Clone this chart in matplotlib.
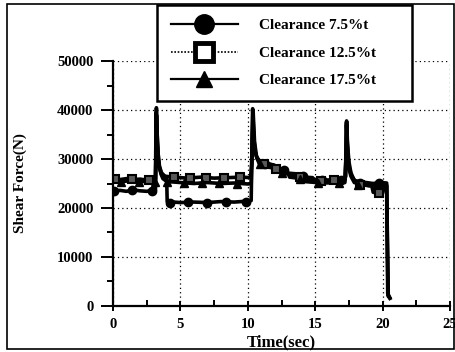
import matplotlib.pyplot as plt
from matplotlib.lines import Line2D
from matplotlib.patches import Rectangle

# Clearance 7.5%t (circles)
t75 = [0.0, 0.5, 1.0, 1.5, 2.0, 2.5, 3.0, 3.15, 3.22, 3.28, 3.35, 3.45, 3.6, 3.8, 3.98,
       4.02, 5.0, 6.0, 7.0, 8.0, 9.0, 10.0, 10.25, 10.3, 10.36, 10.42, 10.5, 10.65, 10.85,
       11.2, 11.9, 12.0, 12.8, 12.9, 14.2, 14.4, 16.0, 17.2, 17.27, 17.33, 17.4, 17.5,
       17.65, 17.9, 18.5, 19.3, 19.8, 20.3, 20.38, 20.5]
f75 = [23300, 23600, 23400, 23700, 23500, 23400, 23600, 23600, 40500, 35000, 31000, 28500, 27200, 26600, 26200,
       21300, 21100, 21200, 21100, 21300, 21200, 21400, 21500, 30000, 40300, 35000, 32000, 30500, 29700,
       29200, 28800, 28200, 27900, 27000, 26600, 25900, 25700, 25900, 26500, 37800, 33000, 29500,
       27200, 25600, 25300, 25000, 25200, 25100, 2500, 1800]

# Clearance 12.5%t (squares)
t125 = [0.0, 0.5, 1.0, 1.5, 2.0, 2.5, 3.0, 3.15, 3.2, 3.27, 3.35, 3.45, 3.6, 3.8,
        4.5, 5.5, 6.5, 7.5, 8.5, 9.5, 10.2, 10.3, 10.37, 10.45, 10.55, 10.7, 10.9,
        11.5, 12.0, 12.1, 12.6, 12.7, 13.5, 13.6, 14.8, 15.0, 16.5, 17.2, 17.28, 17.32,
        17.4, 17.5, 17.7, 18.0, 18.8, 19.2, 19.3, 20.0, 20.1, 20.3, 20.42, 20.55]
f125 = [25900, 25800, 26000, 25800, 25900, 25700, 25800, 25900, 39500, 34000, 30000, 28000, 27000, 26500,
        26300, 26100, 26300, 26100, 26200, 26300, 26200, 29000, 39800, 34500, 31500, 30000, 29300,
        29000, 28700, 28000, 28000, 27200, 27000, 26400, 26200, 25600, 25600, 25700, 30000, 37500,
        32000, 28500, 26500, 25400, 24800, 24500, 23200, 23000, 24300, 24500, 2200, 1500]

# Clearance 17.5%t (triangles)
t175 = [0.0, 0.5, 1.0, 1.5, 2.0, 2.5, 3.0, 3.15, 3.23, 3.3, 3.4, 3.55, 3.7, 4.0,
        5.0, 6.0, 7.0, 8.0, 9.0, 10.0, 10.25, 10.32, 10.4, 10.5, 10.65, 10.85, 11.1,
        11.8, 12.3, 12.4, 13.0, 13.1, 14.0, 14.2, 15.5, 17.2, 17.26, 17.32, 17.4, 17.5,
        17.65, 17.9, 18.5, 19.0, 19.5, 20.0, 20.3, 20.4, 20.52]
f175 = [25500, 25300, 25500, 25400, 25300, 25500, 25400, 25500, 39000, 33000, 29000, 27000, 26000, 25400,
        25200, 25000, 25200, 25000, 25100, 24900, 25000, 33000, 39500, 33500, 30500, 29000, 28600,
        28200, 28000, 27200, 27000, 26300, 26000, 25400, 25100, 25200, 29000, 37000, 32000, 28000,
        26500, 25200, 24800, 24500, 24800, 25000, 24700, 2000, 1600]

# marker positions
m75_t = [0.1, 1.4, 2.9, 4.2, 5.6, 7.0, 8.4, 9.9, 11.3, 12.7, 14.1, 15.5, 16.9, 18.3, 19.7]
m75_f = [23400, 23600, 23500, 21100, 21200, 21100, 21300, 21300, 29000, 27800, 26500, 25700, 25800, 25200, 25100]
m125_t = [0.15, 1.4, 2.65, 4.5, 5.7, 6.9, 8.2, 9.4, 11.2, 12.1, 13.9, 15.4, 16.4, 18.3, 19.7]
m125_f = [25900, 26000, 25800, 26300, 26100, 26200, 26100, 26300, 29000, 28000, 26300, 25600, 25700, 24700, 23000]
m175_t = [0.6, 1.9, 3.1, 4.0, 5.3, 6.6, 7.9, 9.2, 10.9, 12.5, 13.9, 15.2, 16.8, 18.2, 19.6]
m175_f = [25300, 25300, 25400, 25400, 25100, 25100, 25100, 25000, 28900, 27100, 26000, 25200, 25200, 24600, 24800]

labels = ['Clearance 7.5%t', 'Clearance 12.5%t', 'Clearance 17.5%t']
yticks = [0, 10000, 20000, 30000, 40000, 50000]
xticks = [0, 5, 10, 15, 20, 25]

plt.rcParams['font.family'] = ['Liberation Serif', 'DejaVu Serif']
plt.rcParams['font.weight'] = 'bold'
plt.rcParams['axes.labelweight'] = 'bold'

fig = plt.figure(figsize=(4.56, 3.52), dpi=100)
W, H = 456, 352
ax = fig.add_axes([113 / W, 1 - 305.7 / H, (450 - 113) / W, (305.7 - 61.3) / H])

ax.plot(t75, f75, color='k', lw=2.6)
ax.plot(t125, f125, color='k', lw=2.6)
ax.plot(t175, f175, color='k', lw=2.6)
ax.plot(m75_t, m75_f, 'o', color='k', ms=6, ls='none')
ax.plot(m125_t, m125_f, 's', mfc='0.35', mec='k', mew=1.5, ms=5.5, ls='none')
ax.plot(m175_t, m175_f, '^', color='k', ms=5.5, ls='none')

ax.set_xlim(0, 25)
ax.set_ylim(0, 50000)
ax.set_xticks(xticks)
ax.set_yticks(yticks)
ax.set_xticks([2.5, 7.5, 12.5, 17.5, 22.5], minor=True)
ax.set_yticks([5000, 15000, 25000, 35000, 45000], minor=True)
ax.tick_params(axis='y', which='major', direction='out', length=9, width=1.4, labelsize=10.5, pad=5)
ax.tick_params(axis='y', which='minor', direction='out', length=4, width=1.4)
ax.tick_params(axis='x', which='major', direction='inout', length=7, width=1.4, labelsize=10.5, pad=5)
ax.tick_params(axis='x', which='minor', direction='in', length=4, width=1.4)

for s in ['top', 'right']:
    ax.spines[s].set_visible(False)
for s in ['left', 'bottom']:
    ax.spines[s].set_linewidth(1.6)

ax.grid(True, which='major', color='k', linestyle=(0, (1, 2.5)), linewidth=0.9)

ax.set_xlabel('Time(sec)', fontsize=12, fontweight='bold', labelpad=3)
ax.set_ylabel('Shear Force(N)', fontsize=11, fontweight='bold', labelpad=22)

handles = [
    Line2D([], [], color='k', lw=1.6, marker='o', ms=14),
    Line2D([], [], color='k', lw=1.2, ls=(0, (1, 1)), marker='s', mfc='white', mec='k', mew=3.5, ms=13),
    Line2D([], [], color='k', lw=1.6, marker='^', ms=11),
]
leg = fig.legend(handles, labels, loc='upper left',
                 bbox_to_anchor=(157 / W, 1 - 97 / H, 255 / W, 92 / H),
                 bbox_transform=fig.transFigure, mode='expand', borderaxespad=0,
                 fontsize=11, handlelength=4.4, handletextpad=1.4,
                 labelspacing=0.9, borderpad=0.9, fancybox=False, framealpha=1)
leg.get_frame().set_edgecolor('k')
leg.get_frame().set_linewidth(1.8)

# outer frame of the scanned figure
fig.patches.append(Rectangle((7 / W, 3 / H), 447 / W, 345 / H, transform=fig.transFigure,
                             fill=False, edgecolor='k', lw=1.2))

fig.savefig('out.png', dpi=100)
